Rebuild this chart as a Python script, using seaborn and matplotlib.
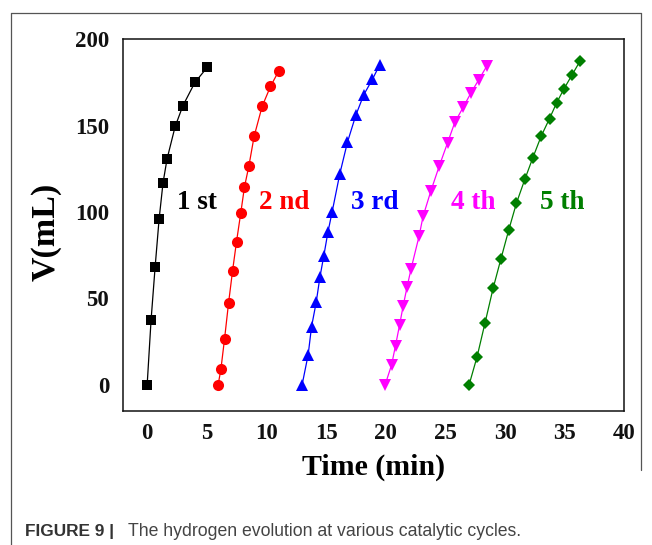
import matplotlib
matplotlib.use("Agg")
import matplotlib.pyplot as plt
import seaborn as sns
import pandas as pd
from matplotlib.ticker import MultipleLocator
from matplotlib.lines import Line2D

# ---- data ----
cycles = ["1 st", "2 nd", "3 rd", "4 th", "5 th"]
colors = ["#000000", "#ff0000", "#0000ff", "#ff00ff", "#007f00"]
markers = ["s", "o", "^", "v", "D"]

t1 = [0, 0.33, 0.67, 1.0, 1.33, 1.67, 2.35, 3.0, 4.0, 5.03]
v1 = [0, 37.7, 68.4, 95.8, 116.9, 130.8, 149.6, 161.6, 175.0, 183.7]

t2 = [5.95, 6.18, 6.49, 6.82, 7.16, 7.49, 7.85, 8.16, 8.52, 8.97, 9.64, 10.34, 11.04]
v2 = [0, 8.9, 26.7, 47.1, 66.0, 82.8, 99.6, 114.6, 126.4, 143.9, 161.2, 172.7, 181.8]

t3 = [12.99, 13.5, 13.78, 14.17, 14.48, 14.81, 15.15, 15.51, 16.15, 16.79, 17.49, 18.16, 18.89, 19.5]
v3 = [0, 17.5, 33.6, 47.7, 62.2, 74.7, 88.2, 100.2, 122.1, 140.4, 156.0, 167.9, 176.9, 185.3]

t4 = [19.95, 20.49, 20.82, 21.16, 21.46, 21.79, 22.13, 22.8, 23.13, 23.78, 24.48, 25.18, 25.79, 26.49, 27.13, 27.8, 28.5]
v4 = [0, 11.5, 22.7, 34.6, 45.6, 56.7, 67.3, 86.2, 97.5, 112.1, 126.5, 140.0, 151.9, 160.6, 168.8, 176.6, 184.8]

t5 = [26.99, 27.66, 28.33, 29.0, 29.65, 30.32, 30.96, 31.66, 32.33, 33.03, 33.73, 34.32, 34.95, 35.62, 36.3]
v5 = [0, 16.3, 36.0, 55.8, 72.7, 89.8, 105.2, 118.9, 131.4, 143.9, 154.1, 163.1, 171.4, 179.4, 187.5]

label_x = [4.14, 11.46, 19.09, 27.37, 34.83]
label_y = [105.4, 105.4, 105.4, 105.4, 105.4]

xlabel = "Time (min)"
ylabel = "V(mL)"
caption_bold = "FIGURE 9 |"
caption_text = "The hydrogen evolution at various catalytic cycles."

# ---- build table ----
frames = []
for name, t, v in zip(cycles, [t1, t2, t3, t4, t5], [v1, v2, v3, v4, v5]):
    frames.append(pd.DataFrame({"Time": t, "V": v, "cycle": name}))
df = pd.concat(frames, ignore_index=True)

sns.set_theme(style="white")
plt.rcParams["font.family"] = ["Liberation Serif", "DejaVu Serif"]

W, H = 652, 545
fig = plt.figure(figsize=(W / 100, H / 100), dpi=100)
ax_l, ax_r, ax_t, ax_b = 123.3, 624.3, 39.3, 410.7
ax = fig.add_axes([ax_l / W, 1 - ax_b / H, (ax_r - ax_l) / W, (ax_b - ax_t) / H])

sns.lineplot(data=df, x="Time", y="V", hue="cycle", style="cycle",
             palette=dict(zip(cycles, colors)),
             markers=dict(zip(cycles, markers)), dashes=False,
             sort=False, estimator=None, legend=False, ax=ax,
             linewidth=0.9, markersize=8, markeredgewidth=0)

# marker size tweaks per series
for line, m in zip(ax.get_lines(), markers):
    if m == "s":
        line.set_markersize(7.5)
    elif m == "o":
        line.set_markersize(8)
    elif m in ("^", "v"):
        line.set_markersize(8.5)
    elif m == "D":
        line.set_markersize(6.5)

for name, c, x, y in zip(cycles, colors, label_x, label_y):
    ax.text(x, y, name, color=c, fontsize=19.5, fontweight="bold",
            ha="center", va="center")

ax.set_xlim(-2, 40)
ax.set_ylim(-15, 200)
ax.xaxis.set_major_locator(MultipleLocator(5))
ax.xaxis.set_minor_locator(MultipleLocator(2.5))
ax.yaxis.set_major_locator(MultipleLocator(50))
ax.yaxis.set_minor_locator(MultipleLocator(25))
ax.tick_params(axis="both", which="both", direction="out", colors="#111111",
               top=False, right=False, width=1.0)
ax.tick_params(axis="x", which="major", length=5.2, pad=3.5, labelsize=16.5)
ax.tick_params(axis="y", which="major", length=5.8, pad=4.3, labelsize=16.5)
ax.tick_params(axis="x", which="minor", length=2.6)
ax.tick_params(axis="y", which="minor", length=2.8)
for lab in ax.get_xticklabels() + ax.get_yticklabels():
    lab.set_fontweight("bold")
for sp in ax.spines.values():
    sp.set_visible(True)
    sp.set_color("#111111")
    sp.set_linewidth(1.1)
ax.grid(False)

ax.set_xlabel(xlabel, fontsize=21.5, fontweight="bold", color="#000000")
ax.set_ylabel(ylabel, fontsize=24.5, fontweight="bold", color="#000000")
ax.xaxis.set_label_coords(0.5, (ax_b - 454) / (ax_b - ax_t))
ax.yaxis.set_label_coords((62 - ax_l) / (ax_r - ax_l), (ax_b - 232) / (ax_b - ax_t))

# ---- page frame and caption ----
fx = lambda px: px / W
fy = lambda py: 1 - py / H
frame_c = "#555555"
fig.add_artist(Line2D([fx(10.7), fx(10.7)], [fy(12.7), fy(545)], color=frame_c, lw=0.9))
fig.add_artist(Line2D([fx(10.7), fx(641)], [fy(12.7), fy(12.7)], color=frame_c, lw=0.9))
fig.add_artist(Line2D([fx(641), fx(641)], [fy(12.7), fy(470)], color=frame_c, lw=0.9))

cap_font = ["Liberation Sans", "DejaVu Sans"]
fig.text(fx(25), fy(535.7), caption_bold, fontsize=12.4, fontweight="bold",
         family=cap_font, color="#333333", va="baseline", ha="left")
fig.text(fx(128), fy(535.7), caption_text, fontsize=12.7, family=cap_font,
         color="#444444", va="baseline", ha="left")

fig.savefig("out.png", dpi=100)
